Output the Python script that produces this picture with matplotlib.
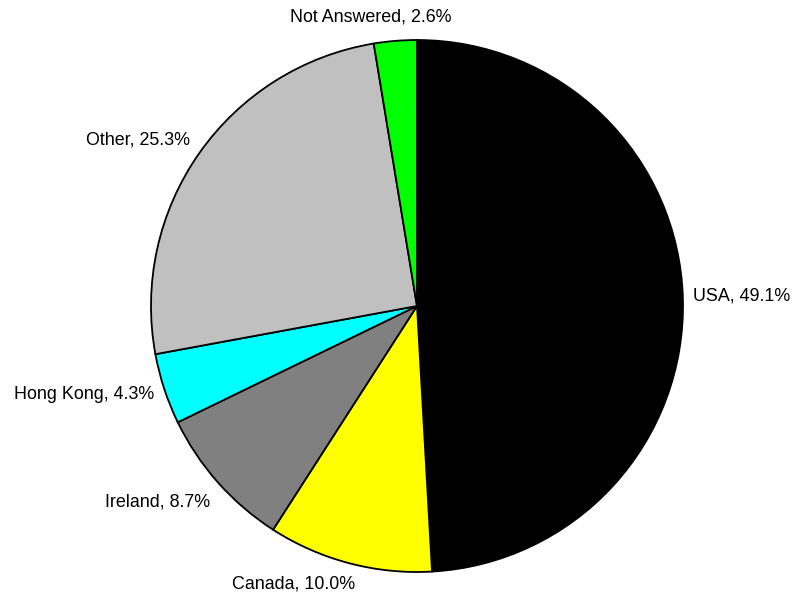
import matplotlib
matplotlib.use("Agg")
import matplotlib.pyplot as plt

categories = ["USA", "Canada", "Ireland", "Hong Kong", "Other", "Not Answered"]
shares = [49.1, 10.0, 8.7, 4.3, 25.3, 2.6]
colors = ["#000000", "#FFFF00", "#808080", "#00FFFF", "#C0C0C0", "#00FF00"]

# label anchors (data units, pie radius = 1) and alignment
label_pos = [
    (1.038, 0.037, "left"),
    (-0.463, -1.046, "center"),
    (-0.778, -0.735, "right"),
    (-0.989, -0.333, "right"),
    (-0.853, 0.624, "right"),
    (-0.172, 1.087, "center"),
]

plt.rcParams["font.family"] = ["Liberation Sans", "DejaVu Sans"]

W, H = 793, 597
fig = plt.figure(figsize=(W / 100, H / 100), dpi=100)
cx, cy, r = 417, 306, 266
ax = fig.add_axes([(cx - r) / W, (H - cy - r) / H, 2 * r / W, 2 * r / H])

ax.pie(shares, colors=colors, startangle=90, counterclock=False,
       radius=1.0, wedgeprops=dict(edgecolor="black", linewidth=1.3))
ax.set_xlim(-1, 1)
ax.set_ylim(-1, 1)
ax.set_aspect("equal")
ax.axis("off")

for name, val, (x, y, ha) in zip(categories, shares, label_pos):
    ax.text(x, y, f"{name}, {val:.1f}%", ha=ha, va="center", fontsize=12.9,
            color="#000000", clip_on=False)

fig.savefig("out.png", dpi=100)
